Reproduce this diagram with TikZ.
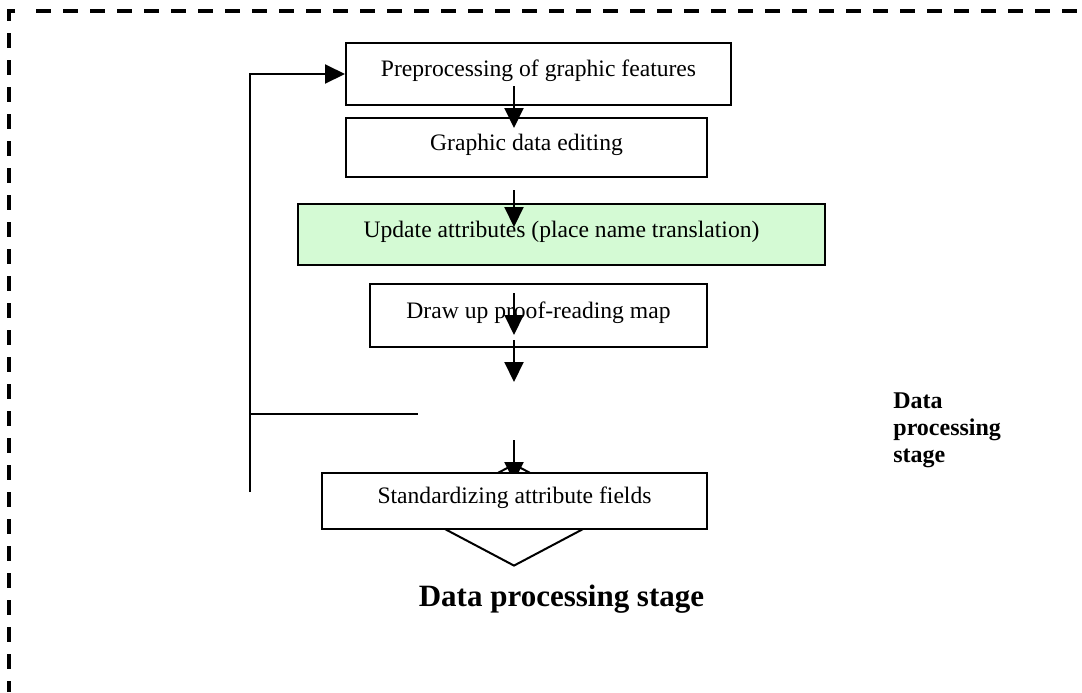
\documentclass[tikz,border=0pt]{standalone}
\usepackage{fontspec}
\setmainfont{Liberation Serif}
\usetikzlibrary{arrows.meta,shapes.geometric}
\definecolor{paleGreen}{RGB}{212,250,212}
\begin{document}
\begin{tikzpicture}[
  x=0.5pt, y=-0.5pt,
  box/.style={draw, line width=1pt, fill=white, inner sep=0pt, font=\fontsize{11.8}{14}\selectfont, text height=8pt, text depth=5.5pt},
  frame/.style={line width=1.6pt, dash pattern=on 7.5pt off 6pt},
  arrow/.style={line width=1pt, -{Triangle[length=10pt,width=9.5pt]}},
  line/.style={line width=1pt}
]
\useasboundingbox (0,0) rectangle (1082,692);

\draw[line width=1.6pt] (15,11) -- (9,11) -- (9,21);
\draw[frame] (36,11) -- (1082,11);
\draw[frame] (9,33) -- (9,692);

\node[box, minimum width=192.5pt, minimum height=31pt] (prep) at (538.5,74) {Preprocessing of graphic features};
\node[box, minimum width=180.5pt, minimum height=29.5pt] (edit) at (526.5,147.5) {Graphic data editing};
\node[box, fill=paleGreen, minimum width=263.5pt, minimum height=30.5pt] (update) at (561.5,234.5) {Update attributes (place name translation)};
\node[box, minimum width=168.5pt, minimum height=31.5pt] (proof) at (538.5,315.5) {Draw up proof-reading map};

\coordinate (t1) at (514,86);  \coordinate (h1) at (514,128);
\coordinate (t2) at (514,190); \coordinate (h2) at (514,227);
\coordinate (t3) at (514,293); \coordinate (h3) at (514,335);
\coordinate (t4) at (514,340); \coordinate (h4) at (514,382);
\coordinate (t5) at (514,440); \coordinate (h5) at (514,482);
\coordinate (loopbot) at (250,492);
\coordinate (loopmid) at (418,414);

\draw[arrow] (t1) -- (h1);
\draw[arrow] (t2) -- (h2);
\draw[arrow] (t3) -- (h3);
\draw[arrow] (t4) -- (h4);

\node[diamond, draw, line width=1pt, inner sep=0pt, minimum width=96pt, minimum height=51pt] (merge) at (514,515) {};
\draw[arrow] (t5) -- (h5);
\node[box, minimum width=192.5pt, minimum height=28pt] (std) at (514.5,501) {Standardizing attribute fields};

\draw[arrow] (loopbot) |- (prep.west);
\draw[line] (loopbot |- loopmid) -- (loopmid);

\node[font=\fontsize{15.5}{18}\selectfont\bfseries, anchor=base, inner sep=0pt] (title) at (561.5,606.7) {Data processing stage};
\node[font=\fontsize{12}{13.5}\selectfont\bfseries, align=left, anchor=north west, inner sep=0pt] (side) at (893,392) {Data\\processing\\stage};
\end{tikzpicture}
\end{document}
